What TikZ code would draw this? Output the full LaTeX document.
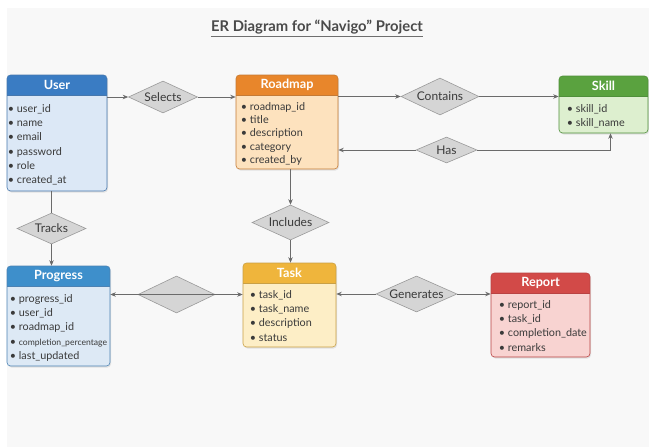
\documentclass[tikz,border=0pt]{standalone}
\usepackage{fontspec}
\setmainfont{Lato}
\usetikzlibrary{shapes.geometric,shadows,arrows.meta}

\definecolor{panel}{HTML}{F8F8F8}
\definecolor{ink}{HTML}{3A3A3A}
\definecolor{titleInk}{HTML}{4A4A4A}
\definecolor{wire}{HTML}{6B6B6B}
\definecolor{relFill}{HTML}{D5D5D5}
\definecolor{relLine}{HTML}{9A9A9A}
\definecolor{userHd}{HTML}{3A7CC3}
\definecolor{userBg}{HTML}{DCE8F6}
\definecolor{userLn}{HTML}{4677AD}
\definecolor{roadmapHd}{HTML}{E8862B}
\definecolor{roadmapBg}{HTML}{FDE2BE}
\definecolor{roadmapLn}{HTML}{C47A35}
\definecolor{skillHd}{HTML}{5AA23F}
\definecolor{skillBg}{HTML}{DDEFCF}
\definecolor{skillLn}{HTML}{4F8F3A}
\definecolor{progressHd}{HTML}{3E8FCB}
\definecolor{progressBg}{HTML}{DDE9F5}
\definecolor{progressLn}{HTML}{4C82B3}
\definecolor{taskHd}{HTML}{EFB53C}
\definecolor{taskBg}{HTML}{FDEEC6}
\definecolor{taskLn}{HTML}{C9A045}
\definecolor{reportHd}{HTML}{D24A48}
\definecolor{reportBg}{HTML}{F8D3D1}
\definecolor{reportLn}{HTML}{B94242}

\begin{document}
\begin{tikzpicture}[x=1pt, y=-1pt, >={Stealth[length=5.5pt, width=4.5pt]},
    entity/.style={draw=#1Ln, fill=#1Bg, line width=0.6pt, rounded corners=3.5pt, inner sep=0pt,
        drop shadow={opacity=0.18, shadow xshift=1pt, shadow yshift=-1.5pt},
        path picture={
            \fill[#1Hd, sharp corners] (path picture bounding box.north west) rectangle ([yshift=-20pt]path picture bounding box.north east);
            \draw[#1Ln, sharp corners, line width=0.6pt] ([yshift=-20pt]path picture bounding box.north west) -- ([yshift=-20pt]path picture bounding box.north east);
        }},
    head/.style={text=white, font=\fontsize{12.7}{14}\selectfont\bfseries, inner sep=0pt},
    attrs/.style={anchor=north west, align=left, text=ink, inner sep=0pt, font=\fontsize{10.8}{14.3}\selectfont},
    rel/.style={diamond, aspect=2.2, draw=relLine, fill=relFill, line width=0.6pt, inner sep=0pt, text=ink, font=\fontsize{12}{14}\selectfont},
    link/.style={draw=wire, line width=0.7pt}]

    % Canvas
    \useasboundingbox (0,0) rectangle (649,447);
    \fill[white] (0,0) rectangle (649,447);
    \fill[panel] (7,8) rectangle (649,447);

    % Title
    \node (title) [font=\fontsize{14.8}{16}\selectfont\bfseries, text=titleInk, inner sep=0pt] at (317,27) {ER Diagram for “Navigo” Project};
    \draw[titleInk!80, line width=0.8pt] ([yshift=-2.5pt]title.south west) -- ([yshift=-2.5pt]title.south east);

    % Entities
    \node (user) [entity=user, minimum width=100pt, minimum height=116pt] at (57,133) {};
    \node (userT) [head] at ([yshift=-10.5pt]user.north) {User};
    \node (userA) [attrs] at ([xshift=1pt, yshift=-29.5pt]user.north west) {\textbullet\ user\_id\\ \textbullet\ name\\ \textbullet\ email\\ \textbullet\ password\\ \textbullet\ role\\ \textbullet\ created\_at};

    \node (roadmap) [entity=roadmap, minimum width=102pt, minimum height=94pt] at (287,122) {};
    \node (roadmapT) [head] at ([yshift=-10.5pt]roadmap.north) {Roadmap};
    \node (roadmapA) [attrs, font=\fontsize{10.8}{13.3}\selectfont] at ([xshift=5pt, yshift=-27.5pt]roadmap.north west) {\textbullet\ roadmap\_id\\ \textbullet\ title\\ \textbullet\ description\\ \textbullet\ category\\ \textbullet\ created\_by};

    \node (skill) [entity=skill, minimum width=89pt, minimum height=57pt] at (603.5,104.5) {};
    \node (skillT) [head] at ([yshift=-10.5pt]skill.north) {Skill};
    \node (skillA) [attrs] at ([xshift=8pt, yshift=-28.5pt]skill.north west) {\textbullet\ skill\_id\\ \textbullet\ skill\_name};

    \node (progress) [entity=progress, minimum width=103pt, minimum height=100pt] at (58.5,316) {};
    \node (progressT) [head] at ([yshift=-10.5pt]progress.north) {Progress};
    \node (progressA) [attrs] at ([xshift=3pt, yshift=-28.5pt]progress.north west) {\textbullet\ progress\_id\\ \textbullet\ user\_id\\ \textbullet\ roadmap\_id\\ \textbullet\ {\fontsize{8.6}{14.3}\selectfont completion\_percentage}\\ \textbullet\ last\_updated};

    \node (task) [entity=task, minimum width=93pt, minimum height=84pt] at (289.5,305) {};
    \node (taskT) [head] at ([yshift=-10pt]task.north) {Task};
    \node (taskA) [attrs] at ([xshift=7pt, yshift=-27.5pt]task.north west) {\textbullet\ task\_id\\ \textbullet\ task\_name\\ \textbullet\ description\\ \textbullet\ status};

    \node (report) [entity=report, minimum width=99pt, minimum height=84pt] at (540.5,315) {};
    \node (reportT) [head] at ([yshift=-10pt]report.north) {Report};
    \node (reportA) [attrs] at ([xshift=8pt, yshift=-27.5pt]report.north west) {\textbullet\ report\_id\\ \textbullet\ task\_id\\ \textbullet\ completion\_date\\ \textbullet\ remarks};

    % Relationships
    \node (selects) [rel, minimum width=69pt, minimum height=32pt] at (163,97) {Selects};
    \node (contains) [rel, minimum width=78pt, minimum height=37pt] at (440,96.5) {Contains};
    \node (has) [rel, minimum width=61pt, minimum height=26pt] at (446.5,150) {Has};
    \node (tracks) [rel, minimum width=69pt, minimum height=31pt] at (51.5,228.5) {Tracks};
    \node (includes) [rel, minimum width=77pt, minimum height=35pt] at (290.5,222.5) {Includes};
    \node (blank) [rel, minimum width=77pt, minimum height=37pt] at (176.5,294.5) {};
    \node (generates) [rel, minimum width=81pt, minimum height=36pt] at (416.5,294) {Generates};

    % Connectors
    \draw[link, ->] (user.east |- selects) -- (selects);
    \draw[link, ->] (selects) -- (selects -| roadmap.west);
    \draw[link, ->] (roadmap.east |- contains) -- (contains);
    \draw[link, ->] (contains) -- (contains -| skill.west);
    \draw[link, ->] (has) -- (has -| roadmap.east);
    \draw[link, ->] (has) -| ([xshift=7pt]skill.south);
    \draw[link] (tracks |- user.south) -- (tracks);
    \draw[link, ->] (tracks) -- (tracks |- progress.north);
    \draw[link, ->] (includes |- roadmap.south) -- (includes);
    \draw[link, ->] (includes) -- (includes |- task.north);
    \draw[link, <->] (progress.east |- blank) -- (blank -| task.west);
    \draw[link, ->] (generates) -- (generates -| task.east);
    \draw[link, ->] (generates) -- (generates -| report.west);

\end{tikzpicture}
\end{document}
